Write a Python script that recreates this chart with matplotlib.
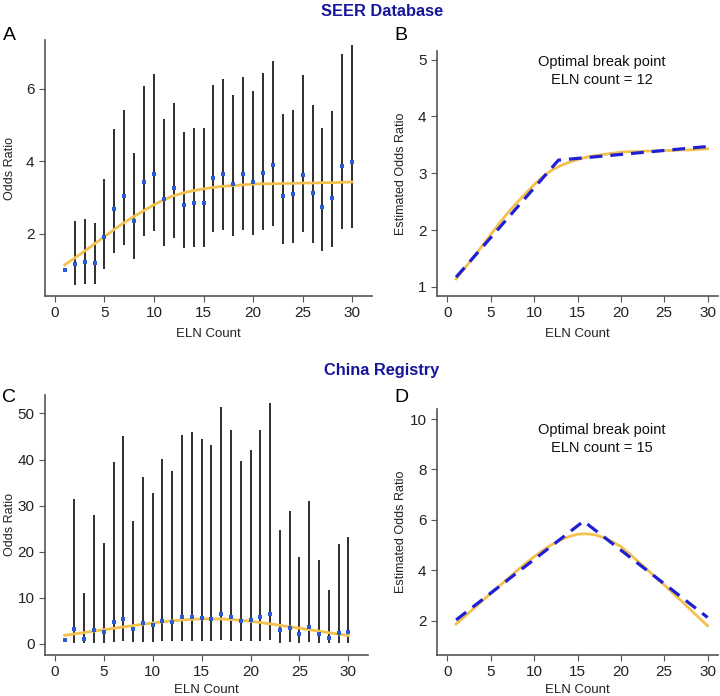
import numpy as np
import matplotlib
matplotlib.use('Agg')
import matplotlib.pyplot as plt
import matplotlib.transforms as mtransforms

plt.rcParams['font.family'] = ['Liberation Sans', 'DejaVu Sans']

eln = np.arange(1, 31)

# SEER database: odds ratio with 95% CI (x=1 is reference, no CI)
seer_or = [0.99, 1.17, 1.23, 1.19, 1.91, 2.69, 3.03, 2.36, 3.44, 3.66,
           2.95, 3.26, 2.79, 2.85, 2.86, 3.55, 3.64, 3.38, 3.65, 3.42,
           3.68, 3.89, 3.03, 3.09, 3.63, 3.13, 2.74, 2.98, 3.88, 3.97]
seer_hi = [np.nan, 2.34, 2.40, 2.29, 3.52, 4.89, 5.42, 4.22, 6.09, 6.42,
           5.17, 5.61, 4.82, 4.91, 4.93, 6.12, 6.28, 5.83, 6.32, 5.94,
           6.43, 6.78, 5.32, 5.43, 6.38, 5.56, 4.93, 5.38, 6.97, 7.22]
seer_lo = [np.nan, 0.57, 0.61, 0.61, 1.03, 1.48, 1.70, 1.31, 1.94, 2.08,
           1.66, 1.88, 1.61, 1.63, 1.63, 2.05, 2.09, 1.94, 2.09, 1.96,
           2.11, 2.21, 1.71, 1.75, 2.04, 1.75, 1.52, 1.63, 2.13, 2.16]
seer_smooth = [1.14, 1.33, 1.52, 1.72, 1.92, 2.12, 2.31, 2.48, 2.64, 2.80,
               2.94, 3.05, 3.13, 3.19, 3.24, 3.28, 3.31, 3.33, 3.35, 3.37,
               3.38, 3.38, 3.39, 3.39, 3.40, 3.40, 3.41, 3.41, 3.42, 3.43]
seer_break_x = [1, 12.8, 30]
seer_break_y = [1.17, 3.23, 3.47]

# China registry
china_or = [0.87, 3.25, 1.00, 3.00, 2.50, 4.70, 5.50, 3.25, 4.50, 4.00,
            5.06, 4.77, 5.78, 5.85, 5.64, 5.50, 6.50, 5.85, 5.00, 5.27,
            5.85, 6.50, 2.96, 3.54, 2.17, 3.68, 2.10, 1.23, 2.38, 2.60]
china_hi = [np.nan, 31.4, 11.1, 28.0, 21.9, 39.5, 45.1, 26.7, 36.2, 32.7,
            40.2, 37.5, 45.4, 46.0, 44.4, 43.1, 51.4, 46.5, 39.7, 42.1,
            46.5, 52.2, 24.7, 28.8, 18.9, 31.0, 18.2, 11.6, 21.6, 23.3]
china_lo = [np.nan, 0.3, 0.1, 0.3, 0.3, 0.5, 0.6, 0.4, 0.5, 0.5,
            0.6, 0.6, 0.7, 0.7, 0.7, 0.7, 0.8, 0.7, 0.6, 0.6,
            0.7, 0.8, 0.3, 0.4, 0.2, 0.4, 0.2, 0.1, 0.2, 0.3]
china_smooth = [1.87, 2.17, 2.47, 2.78, 3.08, 3.38, 3.68, 3.98, 4.27, 4.54,
                4.79, 5.01, 5.20, 5.34, 5.43, 5.45, 5.41, 5.30, 5.14, 4.94,
                4.65, 4.35, 4.04, 3.73, 3.42, 3.10, 2.78, 2.45, 2.12, 1.80]
china_break_x = [1, 15.7, 30]
china_break_y = [2.03, 5.95, 2.13]

YELLOW = '#f2c14e'
DOT = '#2a5bd7'
DASH = '#1f1fd6'
TITLE = '#16169a'
SPINE = '#555555'
TXT = '#222222'

fig = plt.figure(figsize=(7.2, 6.96), dpi=100)
W, H = 720.0, 696.0


def add_ax(x0, y0, x1, y1):
    return fig.add_axes([x0 / W, 1 - y1 / H, (x1 - x0) / W, (y1 - y0) / H])


def style_axis(ax, ylabel, ylab_x, xlab_y):
    for s in ['top', 'right']:
        ax.spines[s].set_visible(False)
    for s in ['left', 'bottom']:
        ax.spines[s].set_color(SPINE)
        ax.spines[s].set_linewidth(1.2)
    ax.tick_params(colors=SPINE, labelcolor=TXT, labelsize=11, length=4)
    ax.set_xticks([0, 5, 10, 15, 20, 25, 30])
    ax.set_xlabel('ELN Count', fontsize=9.5, color=TXT)
    ax.set_ylabel(ylabel, fontsize=9, color=TXT)
    # place axis labels at fixed pixel positions
    ax.yaxis.set_label_coords(ylab_x / W, 0.5,
                              transform=mtransforms.blended_transform_factory(fig.transFigure, ax.transAxes))
    ax.xaxis.set_label_coords(0.5, 1 - xlab_y / H,
                              transform=mtransforms.blended_transform_factory(ax.transAxes, fig.transFigure))
    ax.yaxis.label.set_va('center')
    ax.xaxis.label.set_va('center')


def plot_or(ax, orr, lo, hi, smooth, ylim, yticks, xlab_y):
    ax.vlines(eln, lo, hi, color='#1e1e1e', lw=1.3)
    ax.plot(eln, smooth, color=YELLOW, lw=2)
    ax.plot(eln, orr, 's', color=DOT, ms=3, mew=0)
    ax.set_xlim(-1.0, 32.0)
    ax.set_ylim(*ylim)
    ax.set_yticks(yticks)
    style_axis(ax, 'Odds Ratio', 10, xlab_y)


def plot_break(ax, smooth, bx, by, ylim, yticks, text, ty, xlab_y):
    ax.plot(eln, smooth, color=YELLOW, lw=2)
    ax.plot(bx, by, color=DASH, lw=2.3, dashes=(4, 2.5))
    ax.set_xlim(-1.2, 31.2)
    ax.set_ylim(*ylim)
    ax.set_yticks(yticks)
    ax.text(17.8, ty, text, ha='center', va='top', fontsize=10.5,
            color='#111111', linespacing=1.35)
    style_axis(ax, 'Estimated Odds Ratio', 401, xlab_y)


axA = add_ax(45, 40, 372, 296)
axB = add_ax(437, 51, 718, 296)
axC = add_ax(45, 395, 368, 655)
axD = add_ax(437, 409, 718, 655)

plot_or(axA, seer_or, seer_lo, seer_hi, seer_smooth, (0.28, 7.35), [2, 4, 6], 334)
plot_break(axB, seer_smooth, seer_break_x, seer_break_y, (0.84, 5.15),
           [1, 2, 3, 4, 5], 'Optimal break point\nELN count = 12', 5.08, 334)
plot_or(axC, china_or, china_lo, china_hi, china_smooth, (-2.4, 54.0),
        [0, 10, 20, 30, 40, 50], 690)
plot_break(axD, china_smooth, china_break_x, china_break_y, (0.64, 10.4),
           [2, 4, 6, 8, 10], 'Optimal break point\nELN count = 15', 9.85, 690)

fig.text(382 / W, 1 - 11 / H, 'SEER Database', ha='center', va='center',
         fontsize=11.8, fontweight='bold', color=TITLE)
fig.text(382 / W, 1 - 371 / H, 'China Registry', ha='center', va='center',
         fontsize=11.8, fontweight='bold', color=TITLE)
for lab, x, y in [('A', 9, 35), ('B', 401, 35), ('C', 9, 397), ('D', 401, 397)]:
    fig.text(x / W, 1 - y / H, lab, ha='center', va='center', fontsize=14)

fig.savefig('out.png', dpi=100)
